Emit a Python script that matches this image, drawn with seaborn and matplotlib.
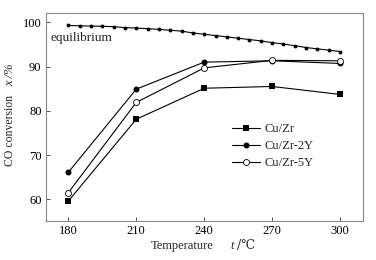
import pandas as pd
import seaborn as sns
from matplotlib import pyplot as plt
import numpy as np

sns.set_style("ticks")
plt.rcParams["font.family"] = ["Liberation Serif", "DejaVu Serif"]

temps = [180, 210, 240, 270, 300]
cu_zr = [59.6, 78.1, 85.1, 85.5, 83.7]
cu_zr_2y = [66.1, 84.9, 91.0, 91.3, 90.7]
cu_zr_5y = [61.5, 81.9, 89.7, 91.4, 91.3]

eq_temps = [180, 185, 190, 195, 200, 205, 210, 215, 220, 225, 230, 235, 240,
            245, 250, 255, 260, 265, 270, 275, 280, 285, 290, 295, 300]
eq_vals = [99.3, 99.2, 99.15, 99.1, 99.0, 98.8, 98.7, 98.55, 98.4, 98.2, 98.0,
           97.6, 97.3, 97.0, 96.7, 96.4, 96.1, 95.8, 95.4, 95.1, 94.7, 94.3,
           94.0, 93.7, 93.4]

W, H = 376, 260
fig = plt.figure(figsize=(3.76, 2.6), dpi=100)
ax = fig.add_axes([45.7/W, 1 - 221/H, 317/W, 208/H])

sns.lineplot(x=eq_temps, y=eq_vals, ax=ax, color="black", lw=0.8,
             marker="o", markersize=2.8, markeredgewidth=0)
sns.lineplot(x=temps, y=cu_zr, ax=ax, color="black", lw=0.8, marker="s",
             markersize=4.5, markeredgewidth=0, label="Cu/Zr")
sns.lineplot(x=temps, y=cu_zr_2y, ax=ax, color="black", lw=0.8, marker="o",
             markersize=4.3, markeredgewidth=0, label="Cu/Zr-2Y")
sns.lineplot(x=temps, y=cu_zr_5y, ax=ax, color="black", lw=0.8, marker="o",
             markersize=4.3, markerfacecolor="white", markeredgecolor="black",
             markeredgewidth=0.6, label="Cu/Zr-5Y")

ax.set_xlim(170, 310)
ax.set_ylim(55.1, 102.1)
ax.set_xticks(temps)
ax.set_yticks([60, 70, 80, 90, 100])
ax.tick_params(direction="in", length=3, width=0.6, labelsize=9, pad=3,
               colors="#333333", labelcolor="black")
for s in ax.spines.values():
    s.set_color("#888888")
    s.set_linewidth(0.8)

fig.text(51/W, 1 - 41/H, "equilibrium", fontsize=9.5)
ax.set_xlabel("")
ax.set_ylabel("")

# x label pieces
fig.text(213/W, 1 - 249/H, "Temperature", ha="right", va="baseline",
         fontsize=9)
fig.text(230/W, 1 - 249/H, "t", ha="left", va="baseline", fontsize=9,
         fontstyle="italic")
fig.text(233/W, 1 - 249/H, " /℃", ha="left", va="baseline", fontsize=9,
         family=["DejaVu Serif"])

# y label pieces (rotated)
fig.text(16/W, 1 - 166/H, "CO conversion", ha="left", va="bottom",
         rotation=90, rotation_mode="anchor", fontsize=8.5)
fig.text(16/W, 1 - 86/H, "x /%", ha="left", va="bottom",
         rotation=90, rotation_mode="anchor", fontsize=9, fontstyle="italic")

ax.legend(loc="center left", bbox_to_anchor=(221/W, 1 - 146/H),
          bbox_transform=fig.transFigure, frameon=False, fontsize=9,
          handlelength=2.2, handletextpad=0.4, labelspacing=0.4)

fig.savefig("out.png", dpi=100)
